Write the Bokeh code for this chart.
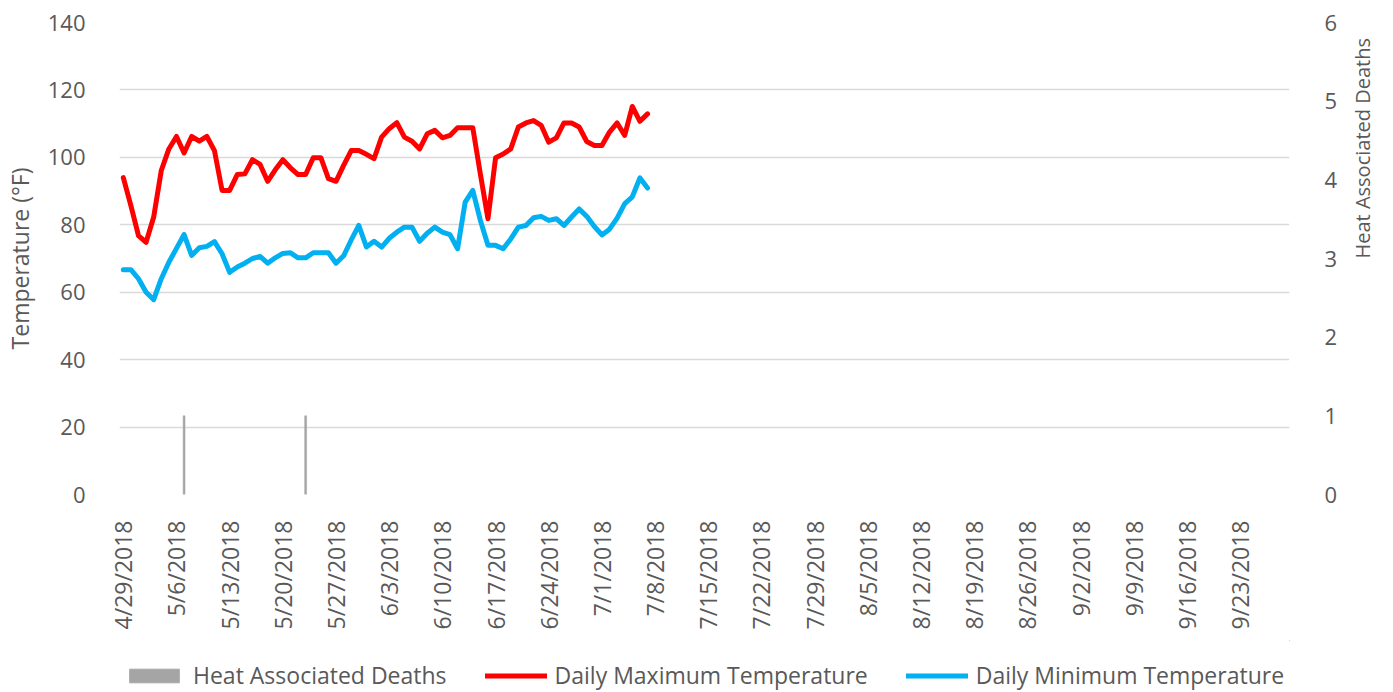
from math import pi
import pandas as pd
from bokeh.plotting import figure
from bokeh.layouts import column
from bokeh.models import Range1d, LinearAxis, FixedTicker, Legend, LegendItem
from bokeh.embed import file_html
from bokeh.resources import INLINE

# ---------------- data ----------------
start_date = "2018-04-29"
end_date = "2018-09-29"
dates = pd.date_range(start_date, periods=70, freq="D")

max_temp = [94.0, 85.7, 76.8, 74.8, 82.3, 96.1, 102.5, 106.2, 101.3, 106.2,
            104.8, 106.2, 102.0, 90.2, 90.2, 94.9, 95.1, 99.3, 97.9, 92.9,
            96.3, 99.3, 96.9, 94.9, 94.9, 99.9, 99.9, 93.7, 92.9, 97.6,
            102.0, 102.0, 100.9, 99.6, 106.0, 108.5, 110.3, 106.0, 104.8, 102.5,
            107.0, 108.0, 105.8, 106.5, 108.8, 108.8, 108.8, 95.0, 81.8, 99.9,
            101.0, 102.5, 109.0, 110.2, 110.9, 109.5, 104.5, 105.8, 110.2, 110.2,
            109.0, 104.7, 103.5, 103.5, 107.5, 110.2, 106.5, 115.1, 110.7, 112.9]

min_temp = [66.7, 66.7, 64.0, 60.0, 57.8, 64.0, 68.9, 73.0, 77.1, 70.9,
            73.2, 73.6, 75.0, 71.4, 65.9, 67.5, 68.6, 70.0, 70.6, 68.6,
            70.2, 71.5, 71.7, 70.2, 70.2, 71.7, 71.7, 71.7, 68.6, 70.8,
            75.5, 79.8, 73.4, 75.1, 73.4, 76.0, 77.8, 79.3, 79.3, 75.1,
            77.5, 79.3, 77.8, 77.1, 72.9, 86.7, 90.2, 81.3, 73.9, 73.9,
            72.9, 75.8, 79.3, 79.8, 82.1, 82.5, 81.3, 81.8, 79.8, 82.3,
            84.7, 82.5, 79.5, 77.0, 78.7, 82.0, 86.3, 88.3, 93.9, 90.9]

death_dates = ["2018-05-07", "2018-05-23"]
deaths = [1, 1]

tick_labels = ["4/29/2018", "5/6/2018", "5/13/2018", "5/20/2018", "5/27/2018",
               "6/3/2018", "6/10/2018", "6/17/2018", "6/24/2018", "7/1/2018",
               "7/8/2018", "7/15/2018", "7/22/2018", "7/29/2018", "8/5/2018",
               "8/12/2018", "8/19/2018", "8/26/2018", "9/2/2018", "9/9/2018",
               "9/16/2018", "9/23/2018"]

temp_ticks = [0, 20, 40, 60, 80, 100, 120, 140]
death_ticks = [0, 1, 2, 3, 4, 5, 6]

series_names = ["Heat Associated Deaths", "Daily Maximum Temperature",
                "Daily Minimum Temperature"]

# ---------------- derived positions (days since start) ----------------
t0 = pd.Timestamp(start_date)
x_days = [(d - t0).days for d in dates]
death_x = [(pd.Timestamp(d) - t0).days for d in death_dates]
tick_x = [(pd.to_datetime(s, format="%m/%d/%Y") - t0).days for s in tick_labels]
x_end = (pd.Timestamp(end_date) - t0).days

FONT = "Open Sans"
GREY = "#595959"
BAR_C = "#A5A5A5"
MAX_C = "#FF0000"
MIN_C = "#00B0F0"

W = 1393
H_MAIN = 640
H_LEG = 692 - H_MAIN

p = figure(width=W, height=H_MAIN, output_backend="svg", toolbar_location=None,
           x_range=Range1d(-0.5, x_end + 0.5), y_range=Range1d(0, 140),
           min_border_left=118, min_border_right=104, min_border_top=22,
           min_border_bottom=H_MAIN - 494)
p.extra_y_ranges = {"deaths": Range1d(0, 6)}
p.outline_line_color = None
p.background_fill_color = "white"
p.border_fill_color = "white"

p.vbar(x=death_x, top=deaths, width=0.25, y_range_name="deaths",
       fill_color=BAR_C, line_color=BAR_C, line_width=0.5)
p.line(x_days, max_temp, line_color=MAX_C, line_width=5,
       line_join="round", line_cap="round")
p.line(x_days, min_temp, line_color=MIN_C, line_width=5,
       line_join="round", line_cap="round")

# grid
p.xgrid.grid_line_color = None
p.ygrid.grid_line_color = "#D9D9D9"
p.ygrid.grid_line_width = 1.5
p.ygrid.ticker = FixedTicker(ticks=temp_ticks)

# left axis
ya = p.yaxis[0]
ya.ticker = FixedTicker(ticks=temp_ticks)
ya.axis_line_color = None
ya.major_tick_line_color = None
ya.minor_tick_line_color = None
ya.major_label_text_font = FONT
ya.major_label_text_font_size = "22px"
ya.major_label_text_color = GREY
ya.major_label_standoff = 28
ya.axis_label = "Temperature (°F)"
ya.axis_label_text_font = FONT
ya.axis_label_text_font_size = "23px"
ya.axis_label_text_font_style = "normal"
ya.axis_label_text_color = GREY
ya.axis_label_standoff = 9

# right axis
ra = LinearAxis(y_range_name="deaths", ticker=FixedTicker(ticks=death_ticks))
ra.axis_line_color = None
ra.major_tick_line_color = None
ra.minor_tick_line_color = None
ra.major_label_text_font = FONT
ra.major_label_text_font_size = "22px"
ra.major_label_text_color = GREY
ra.major_label_standoff = 29
ra.axis_label = "Heat Associated Deaths"
ra.axis_label_text_font = FONT
ra.axis_label_text_font_size = "20px"
ra.axis_label_text_font_style = "normal"
ra.axis_label_text_color = GREY
ra.axis_label_standoff = 22
try:
    ra.axis_label_orientation = pi / 2
except Exception:
    pass
p.add_layout(ra, "right")

# bottom axis
xa = p.xaxis[0]
xa.ticker = FixedTicker(ticks=tick_x)
xa.major_label_overrides = {tx: lab for tx, lab in zip(tick_x, tick_labels)}
xa.major_label_orientation = pi / 2
xa.axis_line_color = None
xa.major_tick_line_color = None
xa.minor_tick_line_color = None
xa.major_label_text_font = FONT
xa.major_label_text_font_size = "23px"
xa.major_label_text_color = GREY
xa.major_label_standoff = 20

# ---------------- legend strip ----------------
# The same series are drawn here with ranges that keep them out of view,
# so that only their legend swatches show.
q = figure(width=W, height=H_LEG, output_backend="svg", toolbar_location=None,
           x_range=Range1d(-1000, -999), y_range=Range1d(-1000, -999),
           min_border=0, x_axis_type=None, y_axis_type=None)
q.grid.grid_line_color = None
q.outline_line_color = None
q.background_fill_color = "white"
q.border_fill_color = "white"
lb = q.vbar(x=death_x, top=deaths, width=0.25, fill_color=BAR_C, line_color=BAR_C)
lmax = q.line(x_days, max_temp, line_color=MAX_C, line_width=5, line_cap="round")
lmin = q.line(x_days, min_temp, line_color=MIN_C, line_width=5, line_cap="round")

legend = Legend(items=[LegendItem(label=series_names[0], renderers=[lb]),
                       LegendItem(label=series_names[1], renderers=[lmax]),
                       LegendItem(label=series_names[2], renderers=[lmin])],
                orientation="horizontal", location=(4, 1),
                glyph_width=62, glyph_height=17, label_standoff=8, spacing=38,
                padding=0, margin=0, border_line_color=None,
                background_fill_alpha=0,
                label_text_font=FONT, label_text_font_size="23px",
                label_text_color=GREY)
q.add_layout(legend)

layout = column(p, q, spacing=0)
open("out.html", "w").write(file_html(layout, INLINE))
